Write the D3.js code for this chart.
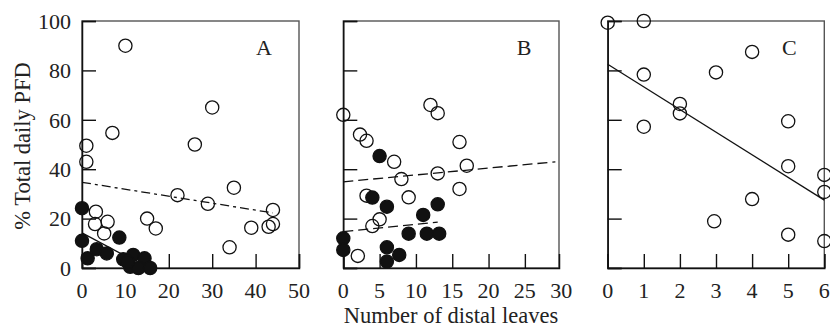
<!DOCTYPE html>
<html>
<head>
<meta charset="utf-8">
<script src="https://cdn.jsdelivr.net/npm/d3@7"></script>
<style>
  body { margin: 0; background: #fff; }
  text { font-family: "Liberation Serif", "DejaVu Serif", serif; fill: #222; }
</style>
</head>
<body>
<svg id="chart" width="830" height="329"></svg>
<script>
// open circles = total, filled circles = subset
var openA = [[10, 90], [30, 65], [7, 54.7], [26, 50], [1, 49.5], [1, 43], [22, 29.5], [35, 32.5],
  [29, 26], [44, 23.5], [15, 20], [17, 16], [39, 16.3], [43, 16.7], [44, 17.8], [34, 8.4],
  [3.2, 22.8], [5.9, 18.7], [3, 17.8], [5.1, 14]];
var filledA = [[0, 24.2], [0, 11], [1.3, 3.9], [3.4, 7.6], [5.7, 5.9], [8.6, 12.3], [9.5, 3.5],
  [11.8, 5.3], [14.4, 3.9], [11.1, 0.5], [13, 0], [15.7, 0], [10.5, 2.5]];
var openB = [[0, 62], [12, 66], [13, 62.7], [2.3, 54], [3.2, 51.5], [16, 51], [7, 43], [17, 41.4],
  [8, 36], [13, 38.3], [16, 32], [3.2, 29.3], [9, 28.6], [5, 19.7], [4, 17], [2, 4.9]];
var filledB = [[5, 45.3], [4, 28.5], [6, 24.8], [13, 25.8], [11, 21.5], [9, 13.9], [11.5, 13.9],
  [13.2, 13.9], [0, 12], [0, 7.3], [6, 8.4], [7.7, 5.3], [6, 2.6]];
var openC = [[0, 99.3], [1, 100], [4, 87.5], [1, 78.3], [3, 79.2], [2, 66.4], [2, 62.6], [1, 57.2],
  [5, 59.4], [5, 41.2], [6, 37.7], [6, 30.8], [4, 27.9], [2.95, 18.9], [5, 13.5], [6, 10.9]];

// fitted lines: [x0, y0, x1, y1]
var lineA_open = [0, 34.7, 44, 22.3];
var lineA_filled = [0, 14.2, 12, 3];
var lineB_open = [0, 34.9, 29.2, 43];
var lineB_filled = [0, 14.7, 13, 18.6];
var lineC = [0, 82.5, 6, 27.5];

var yTicks = [0, 20, 40, 60, 80, 100];
var ticksA = [0, 10, 20, 30, 40, 50];
var ticksB = [0, 5, 10, 15, 20, 25, 30];
var ticksC = [0, 1, 2, 3, 4, 5, 6];

var svg = d3.select('#chart');
var plotTop = 21, plotBottom = 268;
var tickLen = 14;
var r = 6.6;

var y = d3.scaleLinear().domain([0, 100]).range([plotBottom, plotTop]);

var panels = [
  { name: 'A', x0: 82, x1: 299, max: 50, ticks: ticksA, labelY: true,
    open: openA, filled: filledA,
    lines: [{ d: lineA_open, dash: '9,4,3,4' }, { d: lineA_filled, dash: null }] },
  { name: 'B', x0: 343.3, x1: 559, max: 29.7, ticks: ticksB, labelY: false,
    open: openB, filled: filledB,
    lines: [{ d: lineB_open, dash: '10,5' }, { d: lineB_filled, dash: '10,5' }] },
  { name: 'C', x0: 607.7, x1: 824.3, max: 6, ticks: ticksC, labelY: false,
    open: openC, filled: [],
    lines: [{ d: lineC, dash: null }] }
];

panels.forEach(function(p){
  var x = d3.scaleLinear().domain([0, p.max]).range([p.x0, p.x1]);
  var g = svg.append('g').attr('class', 'panel-' + p.name);

  // frame
  g.append('rect')
    .attr('x', p.x0).attr('y', plotTop)
    .attr('width', p.x1 - p.x0).attr('height', plotBottom - plotTop)
    .attr('fill', 'none').attr('stroke', '#555').attr('stroke-width', 1.4);

  // axes, ticks pointing inward
  var xAxis = d3.axisTop(x).tickValues(p.ticks.filter(function(t){ return t <= p.max; }))
    .tickSize(tickLen).tickFormat('');
  g.append('g').attr('transform', 'translate(0,' + plotBottom + ')').call(xAxis)
    .call(function(a){
      a.select('.domain').attr('stroke', '#111').attr('stroke-width', 1.5);
      a.selectAll('.tick line').attr('stroke', '#111').attr('stroke-width', 1.4);
    });
  var yAxis = d3.axisRight(y).tickValues(yTicks).tickSize(tickLen).tickFormat('');
  g.append('g').attr('transform', 'translate(' + p.x0 + ',0)').call(yAxis)
    .call(function(a){
      a.select('.domain').attr('stroke', '#111').attr('stroke-width', 1.5);
      a.selectAll('.tick line').attr('stroke', '#111').attr('stroke-width', 1.4);
    });

  // tick labels
  g.selectAll('.xlab').data(p.ticks).enter().append('text')
    .attr('x', function(d){ return x(d); })
    .attr('y', 298)
    .attr('text-anchor', 'middle')
    .attr('font-size', 22)
    .text(function(d){ return d; });

  if(p.labelY){
    g.selectAll('.ylab').data(yTicks).enter().append('text')
      .attr('x', p.x0 - 11)
      .attr('y', function(d){ return y(d); })
      .attr('dy', '0.35em')
      .attr('text-anchor', 'end')
      .attr('font-size', 22)
      .text(function(d){ return d; });
  }

  // fitted lines
  p.lines.forEach(function(l){
    g.append('line')
      .attr('x1', x(l.d[0])).attr('y1', y(l.d[1]))
      .attr('x2', x(l.d[2])).attr('y2', y(l.d[3]))
      .attr('stroke', '#111').attr('stroke-width', 1.3)
      .attr('stroke-dasharray', l.dash);
  });

  // points
  g.selectAll('.open').data(p.open).enter().append('circle')
    .attr('cx', function(d){ return x(d[0]); })
    .attr('cy', function(d){ return y(d[1]); })
    .attr('r', r)
    .attr('fill', 'none').attr('stroke', '#111').attr('stroke-width', 1.3);
  g.selectAll('.filled').data(p.filled).enter().append('circle')
    .attr('cx', function(d){ return x(d[0]); })
    .attr('cy', function(d){ return y(d[1]); })
    .attr('r', r)
    .attr('fill', '#111').attr('stroke', '#111').attr('stroke-width', 1.3);

  // panel letter
  g.append('text')
    .attr('x', p.x1 - 35).attr('y', 55)
    .attr('text-anchor', 'middle')
    .attr('font-size', 22)
    .text(p.name);
});

// axis titles
svg.append('text')
  .attr('x', 451).attr('y', 323)
  .attr('text-anchor', 'middle')
  .attr('font-size', 22.5)
  .text('Number of distal leaves');

svg.append('text')
  .attr('transform', 'translate(30,146) rotate(-90)')
  .attr('text-anchor', 'middle')
  .attr('font-size', 22.5)
  .text('% Total daily PFD');
</script>
</body>
</html>
